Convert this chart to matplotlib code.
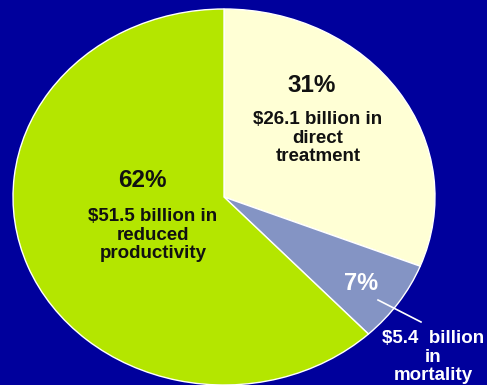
import matplotlib.pyplot as plt

# cost breakdown, clockwise from 12 o'clock
pcts = [31, 7, 62]
dollars = [26.1, 5.4, 51.5]
colores = ['#FFFFD5', '#8494C4', '#B4E600']
fondo = '#00009C'

W, H = 487, 385
cx, cy = 224, 197      # pie centre in pixels
rx, ry = 211, 188      # pie is a bit wider than tall


def px(x, y):
    # pixel position -> data units of the pie
    return (x - cx) / rx, (cy - y) / ry


fig = plt.figure(figsize=(W / 100, H / 100), dpi=100)
fig.patch.set_facecolor(fondo)
ax = fig.add_axes([0, 0, 1, 1])
ax.set_facecolor(fondo)

ax.pie(pcts, colors=colores, startangle=90, counterclock=False,
       wedgeprops=dict(edgecolor='white', linewidth=1.0))
ax.set_aspect('auto')
ax.set_xlim(-cx / rx, (W - cx) / rx)
ax.set_ylim(-(H - cy) / ry, cy / ry)
ax.axis('off')

fam = ['Liberation Sans', 'DejaVu Sans']

# 31% slice
ax.text(*px(312, 85), f'{pcts[0]}%', ha='center', va='center',
        fontsize=17.5, fontweight='bold', family=fam, color='#111111')
ax.text(*px(318, 138), f'${dollars[0]} billion in\ndirect\ntreatment',
        ha='center', va='center', fontsize=13.5, fontweight='bold',
        family=fam, color='#111111', linespacing=1.12)

# 62% slice
ax.text(*px(142, 180), f'{pcts[2]}%', ha='center', va='center',
        fontsize=17.5, fontweight='bold', family=fam, color='#111111')
ax.text(*px(153, 235), f'${dollars[2]} billion in\nreduced\nproductivity',
        ha='center', va='center', fontsize=13.5, fontweight='bold',
        family=fam, color='#111111', linespacing=1.12)

# 7% slice with a leader to the label outside
ax.text(*px(361, 284), f'{pcts[1]}%', ha='center', va='center',
        fontsize=17, fontweight='bold', family=fam, color='white')
x0, y0 = px(378, 300)
x1, y1 = px(421, 322)
ax.plot([x0, x1], [y0, y1], color='white', linewidth=1.2)
ax.text(*px(433, 357), f'${dollars[1]}  billion\nin\nmortality',
        ha='center', va='center', fontsize=13.5, fontweight='bold',
        family=fam, color='white', linespacing=1.12)

fig.savefig('out.png', dpi=100, facecolor=fondo)
